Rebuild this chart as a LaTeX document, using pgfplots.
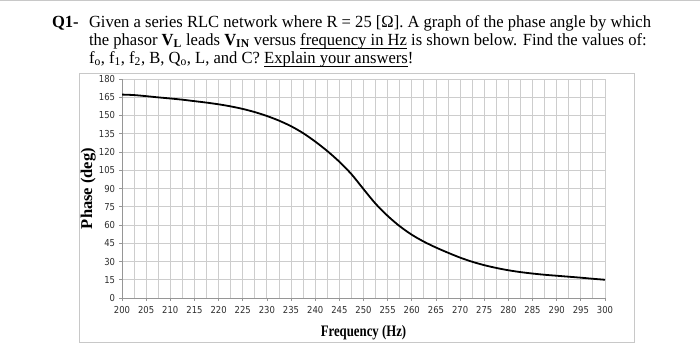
\documentclass[border=0pt]{standalone}
\usepackage{fontspec}
\setmainfont{Liberation Serif}
\newfontfamily\ticksfont{DejaVu Sans}
\usepackage{pgfplots}
\pgfplotsset{compat=1.18}
\definecolor{gridgray}{RGB}{205,205,205}
\definecolor{axgray}{RGB}{150,150,150}
\definecolor{framegray}{RGB}{200,200,200}
\definecolor{ticktext}{RGB}{45,45,45}
\newcommand{\myul}[1]{\underline{\smash{#1}\rule[-1.6pt]{0pt}{0pt}}}
\begin{document}
\begin{tikzpicture}[x=1pt,y=1pt]
\useasboundingbox (0,0) rectangle (700,360);
\draw[framegray, line width=0.8pt] (0,359.6) -- (700,359.6);
\draw[framegray, line width=0.8pt] (79,287) rectangle (634,18);
% title
\begin{scope}[every node/.style={inner sep=0pt, outer sep=0pt, anchor=base west, xscale=0.975}]
\node at (52,333) {\fontsize{17}{18}\selectfont\textbf{Q1-}};
\node at (89,333) {\fontsize{17}{18}\selectfont Given a series RLC network where R = 25 [Ω]. A graph of the phase angle by which};
\node at (89,315) {\fontsize{17}{18}\selectfont the phasor \textbf{V\textsubscript{L}} leads \textbf{V\textsubscript{IN}} versus \myul{frequency in Hz} is shown below. Find the values of:};
\node at (89,297) {\fontsize{17}{18}\selectfont f\textsubscript{o}, f\textsubscript{1}, f\textsubscript{2}, B, Q\textsubscript{o}, L, and C? \myul{Explain your answers}!};
\end{scope}
\begin{axis}[
  at={(122pt,62pt)}, anchor=south west,
  scale only axis, width=483pt, height=219pt,
  xmin=200, xmax=300, ymin=0, ymax=180,
  xtick distance=5, ytick distance=15,
  minor x tick num=1,
  axis x line*=bottom, axis y line*=left,
  axis line style={axgray, line width=0.8pt},
  grid=both,
  major grid style={gridgray, line width=0.9pt},
  minor grid style={gridgray, line width=0.9pt},
  minor tick length=0pt,
  major tick length=3pt,
  tick align=outside,
  tick style={axgray, line width=0.8pt},
  /pgf/number format/assume math mode=true,
  tick label style={font=\ticksfont\fontsize{9.6}{10}\selectfont, text=ticktext, xscale=0.88},
  xticklabel style={yshift=-2pt},
  yticklabel style={xshift=-1pt},
  xlabel={\textbf{Frequency (Hz)}},
  xlabel style={font=\fontsize{16}{17}\selectfont, xscale=0.8, at={(axis description cs:0.5,-0.178)}, anchor=base},
  ylabel={\textbf{Phase (deg)}},
  ylabel style={font=\fontsize{16.5}{17}\selectfont, at={(axis description cs:-0.07,0.5)}, anchor=center, rotate=0},
]
\addplot[black, line width=1.8pt, smooth] coordinates {
(200,167.2) (202.5,166.8) (205,165.9) (207.5,164.9) (210,164) (212.5,163)
(215,161.8) (217.5,160.6) (220,159.2) (222.5,157.5) (225,155.4) (227.5,152.8)
(230,149.6) (232.5,145.8) (235,141.2) (237.5,135.5) (240,128.6) (242.5,120.8)
(245,112) (247.5,101.8) (250,89.5) (252.5,77.5) (255,67.5) (257.5,59)
(260,52) (262.5,46.3) (265,41.5) (267.5,37.2) (270,33.2) (272.5,29.8)
(275,27) (277.5,24.7) (280,22.8) (282.5,21.3) (285,20.1) (287.5,19.1)
(290,18.3) (292.5,17.5) (295,16.7) (297.5,15.8) (300,15)
};
\end{axis}
\end{tikzpicture}
\end{document}
